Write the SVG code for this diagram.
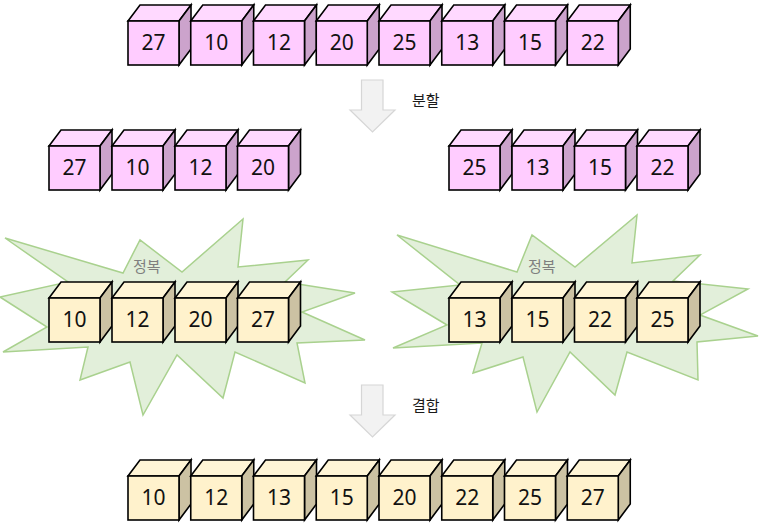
<svg xmlns="http://www.w3.org/2000/svg" xmlns:xlink="http://www.w3.org/1999/xlink" width="774" height="532" viewBox="0 0 774 532">
<style>
.num{font-family:"Noto Sans","Open Sans","Liberation Sans",sans-serif;font-size:21px;fill:#111;text-anchor:middle}
.lbl{font-family:"Noto Sans CJK KR","Noto Sans",sans-serif;font-size:15px;fill:#1a1a1a}
.glbl{font-family:"Noto Sans CJK KR","Noto Sans",sans-serif;font-size:15px;fill:#7f7f7f}
.burst{fill:#E2EFDA;stroke:#A9D18E;stroke-width:1.5;stroke-linejoin:miter}
.arrow{fill:#F2F2F2;stroke:#D6D6D6;stroke-width:1.2}
.edge{stroke:#000;stroke-width:1.6;stroke-linejoin:miter}
</style>
<defs>
<g id="pink">
<polygon class="edge" points="0,0 12,-16 63,-16 51,0" fill="#FFD9FF"/>
<polygon class="edge" points="51,0 63,-16 63,28 51,44" fill="#CCA3CC"/>
<rect class="edge" x="0" y="0" width="51" height="44" fill="#FFCCFF"/>
</g>
<g id="yellow">
<polygon class="edge" points="0,0 12,-16 63,-16 51,0" fill="#FFF5D6"/>
<polygon class="edge" points="51,0 63,-16 63,28 51,44" fill="#CCC2A3"/>
<rect class="edge" x="0" y="0" width="51" height="44" fill="#FFF2CC"/>
</g>
</defs>
<rect width="774" height="532" fill="#fff"/>

<g id="connectors">
<path class="arrow" d="M361.5,80 H383 V110 H395 L372.5,132 L350,110 H361.5 Z"/>
<path class="arrow" d="M361.5,385 H383 V415 H395 L372.5,437 L350,415 H361.5 Z"/>
<text class="lbl" x="412" y="106">분할</text>
<text class="lbl" x="412" y="411">결합</text>
</g>

<g id="burst-left">
<polygon class="burst" points="5,238 123,273 140,240 182,272 243,219 238,267 308,260 285,282 355,293 302,312 365,340 297,343 305,383 235,352 223,398 177,355 143,415 130,362 80,380 88,347 3,352 47,327 0,297 68,282"/>
<text class="glbl" x="133" y="272">정복</text>
</g>
<g id="burst-right">
<polygon class="burst" points="397,235 517,272 532,235 575,267 637,215 632,263 700,255 673,281 748,289 700,315 758,336 697,342 698,380 627,352 615,395 570,352 537,412 523,357 473,373 482,343 393,348 447,325 392,292 460,285"/>
<text class="glbl" x="528" y="272">정복</text>
</g>

<g id="row1">
<g id="r1c1" transform="translate(128,21)"><use xlink:href="#pink"/><text class="num" x="25.5" y="29">27</text></g>
<g id="r1c2" transform="translate(190.75,21)"><use xlink:href="#pink"/><text class="num" x="25.5" y="29">10</text></g>
<g id="r1c3" transform="translate(253.5,21)"><use xlink:href="#pink"/><text class="num" x="25.5" y="29">12</text></g>
<g id="r1c4" transform="translate(316.25,21)"><use xlink:href="#pink"/><text class="num" x="25.5" y="29">20</text></g>
<g id="r1c5" transform="translate(379,21)"><use xlink:href="#pink"/><text class="num" x="25.5" y="29">25</text></g>
<g id="r1c6" transform="translate(441.75,21)"><use xlink:href="#pink"/><text class="num" x="25.5" y="29">13</text></g>
<g id="r1c7" transform="translate(504.5,21)"><use xlink:href="#pink"/><text class="num" x="25.5" y="29">15</text></g>
<g id="r1c8" transform="translate(567.25,21)"><use xlink:href="#pink"/><text class="num" x="25.5" y="29">22</text></g>
</g>

<g id="row2">
<g id="r2c1" transform="translate(49,146)"><use xlink:href="#pink"/><text class="num" x="25.5" y="29">27</text></g>
<g id="r2c2" transform="translate(112,146)"><use xlink:href="#pink"/><text class="num" x="25.5" y="29">10</text></g>
<g id="r2c3" transform="translate(175,146)"><use xlink:href="#pink"/><text class="num" x="25.5" y="29">12</text></g>
<g id="r2c4" transform="translate(237.5,146)"><use xlink:href="#pink"/><text class="num" x="25.5" y="29">20</text></g>
<g id="r2c5" transform="translate(449,146)"><use xlink:href="#pink"/><text class="num" x="25.5" y="29">25</text></g>
<g id="r2c6" transform="translate(512,146)"><use xlink:href="#pink"/><text class="num" x="25.5" y="29">13</text></g>
<g id="r2c7" transform="translate(574.5,146)"><use xlink:href="#pink"/><text class="num" x="25.5" y="29">15</text></g>
<g id="r2c8" transform="translate(637,146)"><use xlink:href="#pink"/><text class="num" x="25.5" y="29">22</text></g>
</g>

<g id="row3">
<g id="r3c1" transform="translate(49,298)"><use xlink:href="#yellow"/><text class="num" x="25.5" y="29">10</text></g>
<g id="r3c2" transform="translate(112,298)"><use xlink:href="#yellow"/><text class="num" x="25.5" y="29">12</text></g>
<g id="r3c3" transform="translate(175,298)"><use xlink:href="#yellow"/><text class="num" x="25.5" y="29">20</text></g>
<g id="r3c4" transform="translate(237.5,298)"><use xlink:href="#yellow"/><text class="num" x="25.5" y="29">27</text></g>
<g id="r3c5" transform="translate(449,298)"><use xlink:href="#yellow"/><text class="num" x="25.5" y="29">13</text></g>
<g id="r3c6" transform="translate(512,298)"><use xlink:href="#yellow"/><text class="num" x="25.5" y="29">15</text></g>
<g id="r3c7" transform="translate(574.5,298)"><use xlink:href="#yellow"/><text class="num" x="25.5" y="29">22</text></g>
<g id="r3c8" transform="translate(637,298)"><use xlink:href="#yellow"/><text class="num" x="25.5" y="29">25</text></g>
</g>

<g id="row4">
<g id="r4c1" transform="translate(128,476)"><use xlink:href="#yellow"/><text class="num" x="25.5" y="29">10</text></g>
<g id="r4c2" transform="translate(190.75,476)"><use xlink:href="#yellow"/><text class="num" x="25.5" y="29">12</text></g>
<g id="r4c3" transform="translate(253.5,476)"><use xlink:href="#yellow"/><text class="num" x="25.5" y="29">13</text></g>
<g id="r4c4" transform="translate(316.25,476)"><use xlink:href="#yellow"/><text class="num" x="25.5" y="29">15</text></g>
<g id="r4c5" transform="translate(379,476)"><use xlink:href="#yellow"/><text class="num" x="25.5" y="29">20</text></g>
<g id="r4c6" transform="translate(441.75,476)"><use xlink:href="#yellow"/><text class="num" x="25.5" y="29">22</text></g>
<g id="r4c7" transform="translate(504.5,476)"><use xlink:href="#yellow"/><text class="num" x="25.5" y="29">25</text></g>
<g id="r4c8" transform="translate(567.25,476)"><use xlink:href="#yellow"/><text class="num" x="25.5" y="29">27</text></g>
</g>
</svg>
